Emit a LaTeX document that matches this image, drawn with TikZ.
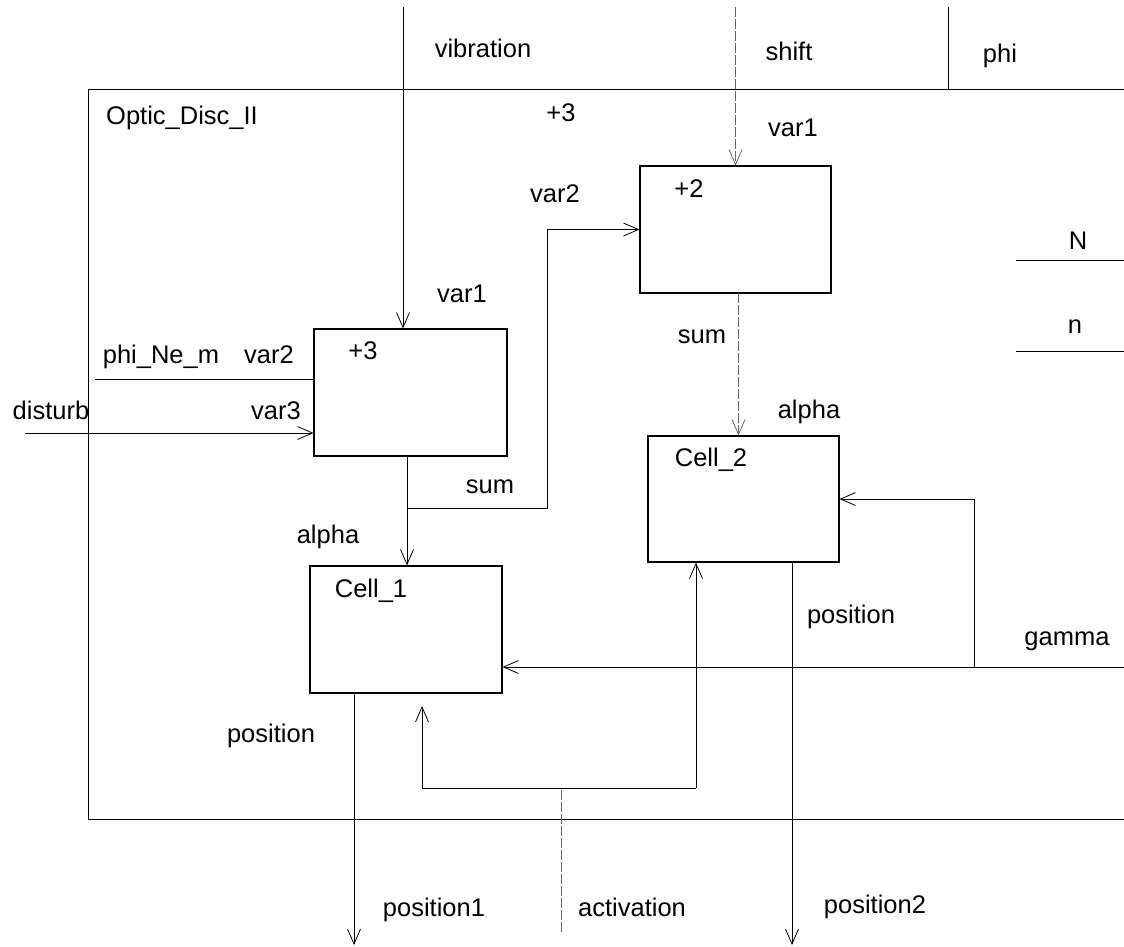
\documentclass[tikz,border=0pt]{standalone}
\usepackage{fontspec}
\setmainfont{Liberation Sans}
\usetikzlibrary{arrows.meta}
\begin{document}
\begin{tikzpicture}[x=1pt,y=-1pt,
  lbl/.style={inner sep=0pt, anchor=base, font=\fontsize{25.5}{30}\selectfont},
  blk/.style={draw, line width=1.1pt, inner sep=0pt},
  ln/.style={line width=0.9pt},
  arr/.style={ln, -{Straight Barb[length=15pt,width=13pt,line width=0.8pt]}},
  faint/.style={line width=0.8pt, black!60, dash pattern=on 10pt off 2pt},
  farr/.style={faint, -{Straight Barb[length=15pt,width=13pt,line width=0.8pt,sep=0pt]}}]
\useasboundingbox (0,0) rectangle (1124,946);

% outer frame (open on the right)
\coordinate (frTR) at (1124,89);
\coordinate (frTL) at (88,89);
\coordinate (frBL) at (88,819);
\coordinate (frBR) at (1124,819);
\draw[line width=1pt] (frTR) -- (frTL) -- (frBL) -- (frBR);

% blocks
\node[blk, minimum width=193pt, minimum height=127pt] (add3) at (410.5,392.5) {};
\node[blk, minimum width=191pt, minimum height=127pt] (add2) at (735.5,229.5) {};
\node[blk, minimum width=192pt, minimum height=127pt] (cell1) at (406,629.5) {};
\node[blk, minimum width=191pt, minimum height=126pt] (cell2) at (743.5,499) {};

% labels
\node[lbl] (tVib) at (483,57) {vibration};
\node[lbl] (tShift) at (789,60) {shift};
\node[lbl] (tPhi) at (1000,62) {phi};
\node[lbl] (tOptic) at (182,124) {Optic\_Disc\_II};
\node[lbl] (tP3a) at (561,121) {+3};
\node[lbl] (tVar1a) at (793,136) {var1};
\node[lbl] (tVar2a) at (555,202) {var2};
\node[lbl] (tP2) at (689,197) {+2};
\node[lbl] (tN) at (1078,249) {N};
\node[lbl] (tn) at (1075,333) {n};
\node[lbl] (tVar1b) at (462,302) {var1};
\node[lbl] (tSum2) at (702,343) {sum};
\node[lbl] (tPhiNe) at (161,363) {phi\_Ne\_m};
\node[lbl] (tVar2b) at (269,363) {var2};
\node[lbl] (tP3b) at (363,359) {+3};
\node[lbl] (tDist) at (51,419) {disturb};
\node[lbl] (tVar3) at (276,419) {var3};
\node[lbl] (tAlpha2) at (809,418) {alpha};
\node[lbl] (tCell2) at (711,466) {Cell\_2};
\node[lbl] (tSum1) at (490,493) {sum};
\node[lbl] (tAlpha1) at (328,543) {alpha};
\node[lbl] (tCell1) at (371,597) {Cell\_1};
\node[lbl] (tPos2) at (851,623) {position};
\node[lbl] (tGamma) at (1067,645) {gamma};
\node[lbl] (tPos1) at (271,742) {position};
\node[lbl] (tPosA) at (434,916) {position1};
\node[lbl] (tAct) at (632,916) {activation};
\node[lbl] (tPosB) at (875,913) {position2};

% right-hand marks
\coordinate (NL) at (1016,260); \coordinate (NR) at (1124,260);
\coordinate (nL) at (1016,351); \coordinate (nR) at (1124,351);
\draw[ln] (NL) -- (NR);
\draw[ln] (nL) -- (nR);

% top inputs
\coordinate (vibTop) at (403,7);
\draw[arr] (vibTop) -- (vibTop |- add3.north);
\coordinate (shiftTop) at (735.5,7);
\draw[farr] (shiftTop) -- (add2.north);
\coordinate (phiTop) at (948,7);
\coordinate (phiBot) at (948,89);
\draw[ln] (phiTop) -- (phiBot);

% left inputs
\coordinate (phiNeL) at (95,379);
\draw[ln] (phiNeL) -- (phiNeL -| add3.west);
\coordinate (distL) at (25,433);
\draw[arr] (distL) -- (distL -| add3.west);

% sum of +3 -> Cell_1, branch to +2
\coordinate (sum1Top) at (407,456);
\draw[arr] (sum1Top) -- (sum1Top |- cell1.north);
\coordinate (sumBr) at (407,508);
\coordinate (var2Cor) at (547,508);
\draw[arr] (sumBr) -- (var2Cor) |- (add2.west);

% sum of +2 -> Cell_2
\coordinate (sum2Top) at (738.5,293);
\draw[farr] (sum2Top) -- (sum2Top |- cell2.north);

% gamma
\coordinate (gamR) at (1124,667);
\coordinate (gamJ) at (974,667);
\draw[arr] (gamR) -- (gamR -| cell1.east);
\draw[arr] (gamJ) |- (cell2.east);

% outputs
\coordinate (p1End) at (354,945);
\draw[arr] (p1End |- cell1.south) -- (p1End);
\coordinate (p2End) at (792,945);
\draw[arr] (p2End |- cell2.south) -- (p2End);

% activation
\coordinate (actBot) at (561,932);
\coordinate (actMid) at (561,788);
\coordinate (actL) at (422,788);
\coordinate (actR) at (696,788);
\coordinate (actLTip) at (422,706);
\draw[faint] (actBot) -- (actMid);
\draw[ln] (actL) -- (actR);
\draw[arr] (actL) -- (actLTip);
\draw[arr] (actR) -- (actR |- cell2.south);
\end{tikzpicture}
\end{document}
